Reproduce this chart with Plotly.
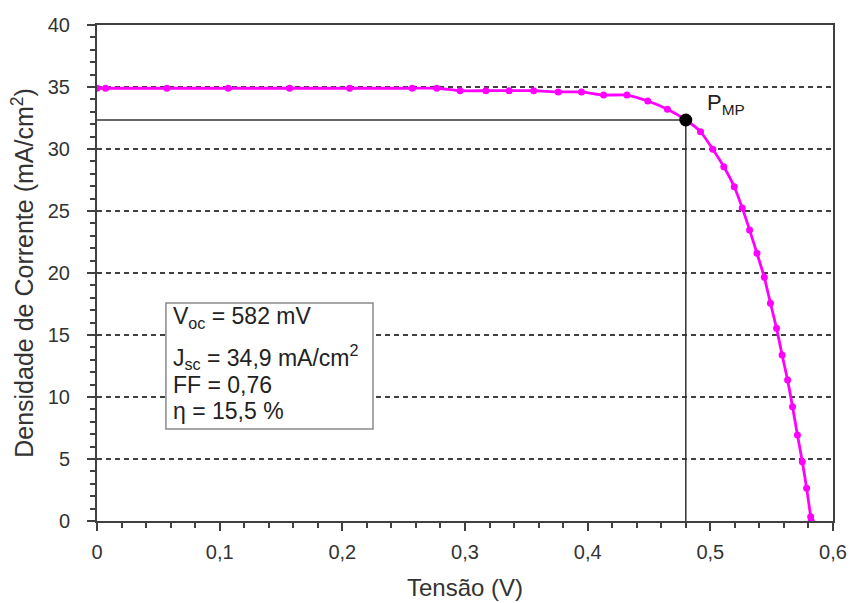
import plotly.graph_objects as go

# I-V curve data
tensao = [0.0, 0.007, 0.057, 0.107, 0.157, 0.206, 0.257, 0.277, 0.296, 0.317, 0.336,
          0.356, 0.376, 0.395, 0.413, 0.432, 0.449, 0.465, 0.480, 0.492, 0.502, 0.511,
          0.5195, 0.526, 0.532, 0.538, 0.544, 0.549, 0.554, 0.5585, 0.563, 0.567,
          0.571, 0.575, 0.5785, 0.5818, 0.5822]
corrente = [34.9, 34.9, 34.9, 34.9, 34.9, 34.9, 34.9, 34.9, 34.7, 34.7, 34.7,
            34.7, 34.6, 34.6, 34.35, 34.35, 33.87, 33.2, 32.34, 31.4, 29.98, 28.57,
            26.96, 25.25, 23.47, 21.59, 19.65, 17.56, 15.54, 13.39, 11.37, 9.22,
            6.94, 4.78, 2.64, 0.35, 0.0]

v_mp = 0.48
j_mp = 32.34

x_ticks = [0, 0.1, 0.2, 0.3, 0.4, 0.5, 0.6]
y_ticks = [0, 5, 10, 15, 20, 25, 30, 35, 40]

box_lines = ["V<sub>oc</sub> = 582 mV", "J<sub>sc</sub> = 34,9 mA/cm<sup>2</sup>",
             "FF = 0,76", "η = 15,5 %"]
box_line_y = [16.45, 13.2, 10.95, 8.85]

axis_col = "#404040"
font_fam = "Liberation Sans, Arial, sans-serif"

fig = go.Figure()

# PMP guide lines
fig.add_trace(go.Scatter(x=[0, v_mp], y=[j_mp, j_mp], mode="lines",
                         line=dict(color="#333333", width=1.5), hoverinfo="skip"))
fig.add_trace(go.Scatter(x=[v_mp, v_mp], y=[0, j_mp], mode="lines",
                         line=dict(color="#333333", width=1.5), hoverinfo="skip"))

# curve
fig.add_trace(go.Scatter(x=tensao, y=corrente, mode="lines+markers",
                         line=dict(color="#FF00FF", width=2.8, shape="spline", smoothing=0.5),
                         marker=dict(color="#FF00FF", size=7, symbol="circle")))

# maximum power point
fig.add_trace(go.Scatter(x=[v_mp], y=[j_mp], mode="markers",
                         marker=dict(color="black", size=13)))

fig.add_shape(type="rect", xref="x", yref="y", x0=0.0562, x1=0.225, y0=7.42, y1=17.58,
              line=dict(color="#8a8a8a", width=1.5), fillcolor="white", layer="above")

for txt, yy in zip(box_lines, box_line_y):
    fig.add_annotation(x=0.0600, y=yy, xref="x", yref="y", xanchor="left", yanchor="middle",
                       text=txt, showarrow=False, align="left",
                       font=dict(size=23, color="#222222", family=font_fam))

fig.add_annotation(x=0.4955, y=33.6, xref="x", yref="y", xanchor="left", yanchor="middle",
                   text="P<sub>MP</sub>", showarrow=False,
                   font=dict(size=22, color="#222222", family=font_fam))

fig.update_layout(
    width=851, height=603,
    margin=dict(l=97, r=18, t=25, b=82),
    paper_bgcolor="white", plot_bgcolor="white",
    showlegend=False,
    separators=", ",
    font=dict(family=font_fam, color="#333333", size=20),
)

fig.update_xaxes(
    range=[0, 0.6], tickvals=x_ticks, showgrid=False, zeroline=False, automargin=False,
    showline=True, linecolor=axis_col, linewidth=2, mirror=True,
    ticks="outside", ticklen=8, tickwidth=1.5, tickcolor=axis_col, ticklabelstandoff=4,
    minor=dict(dtick=0.02, ticks="outside", ticklen=5, tickwidth=1.5, tickcolor=axis_col, showgrid=False),
    tickfont=dict(size=20, color="#333333"),
    title=dict(text="Tensão (V)", font=dict(size=24, color="#333333"), standoff=17),
)
fig.update_yaxes(
    range=[0, 40], tickvals=y_ticks, zeroline=False, automargin=False,
    showgrid=True, gridcolor=axis_col, gridwidth=1.5, griddash="5px,4px",
    showline=True, linecolor=axis_col, linewidth=2, mirror=True,
    ticks="outside", ticklen=8, tickwidth=1.5, tickcolor=axis_col, ticklabelstandoff=13,
    minor=dict(dtick=1, ticks="outside", ticklen=5, tickwidth=1.5, tickcolor=axis_col, showgrid=False),
    tickfont=dict(size=20, color="#333333"),
    title=dict(text="Densidade de Corrente (mA/cm<sup>2</sup>)", font=dict(size=25, color="#333333"), standoff=7),
)

# remove the browser's default 8px body margin so the figure fills the window exactly
fig.write_html("out.html", config={"displayModeBar": False},
               post_script="document.body.style.margin='0';document.body.style.overflow='hidden';")
